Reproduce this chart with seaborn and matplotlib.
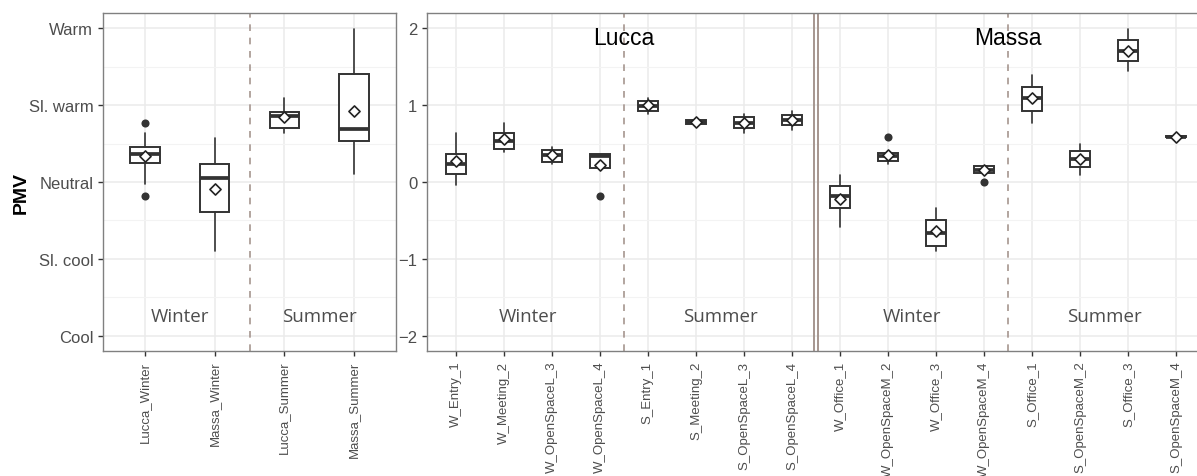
import numpy as np
import pandas as pd
import seaborn as sns
import matplotlib.pyplot as plt

# ---- left panel: site x season ----
left_groups = ["Lucca_Winter", "Massa_Winter", "Lucca_Summer", "Massa_Summer"]
left_season = ["Winter", "Winter", "Summer", "Summer"]
left_whislo = [-0.03, -0.90, 0.64, 0.10]
left_q1 = [0.25, -0.39, 0.70, 0.54]
left_med = [0.37, 0.05, 0.86, 0.69]
left_q3 = [0.46, 0.23, 0.91, 1.40]
left_whishi = [0.64, 0.57, 1.10, 1.99]
left_mean = [0.34, -0.09, 0.84, 0.92]
left_out_group = ["Lucca_Winter", "Lucca_Winter"]
left_out_val = [0.765, -0.18]

# ---- right panel: single rooms ----
right_groups = ["W_Entry_1", "W_Meeting_2", "W_OpenSpaceL_3", "W_OpenSpaceL_4",
                "S_Entry_1", "S_Meeting_2", "S_OpenSpaceL_3", "S_OpenSpaceL_4",
                "W_Office_1", "W_OpenSpaceM_2", "W_Office_3", "W_OpenSpaceM_4",
                "S_Office_1", "S_OpenSpaceM_2", "S_Office_3", "S_OpenSpaceM_4"]
right_site = ["Lucca"] * 8 + ["Massa"] * 8
right_season = (["Winter"] * 4 + ["Summer"] * 4) * 2
right_whislo = [-0.035, 0.39, 0.235, 0.17, 0.88, 0.74, 0.64, 0.68,
                -0.59, 0.235, -0.90, 0.12, 0.77, 0.095, 1.44, 0.585]
right_q1 = [0.11, 0.43, 0.265, 0.18, 0.925, 0.75, 0.70, 0.74,
            -0.34, 0.27, -0.83, 0.12, 0.92, 0.19, 1.57, 0.585]
right_med = [0.23, 0.54, 0.35, 0.34, 0.995, 0.78, 0.77, 0.81,
             -0.18, 0.335, -0.66, 0.16, 1.09, 0.30, 1.71, 0.59]
right_q3 = [0.365, 0.64, 0.42, 0.365, 1.05, 0.81, 0.84, 0.87,
            -0.05, 0.38, -0.49, 0.205, 1.24, 0.40, 1.85, 0.60]
right_whishi = [0.64, 0.765, 0.46, 0.37, 1.10, 0.82, 0.89, 0.93,
                0.095, 0.38, -0.34, 0.205, 1.39, 0.495, 1.99, 0.60]
right_mean = [0.27, 0.56, 0.35, 0.225, 1.0, 0.78, 0.77, 0.81,
              -0.22, 0.35, -0.635, 0.16, 1.09, 0.30, 1.71, 0.59]
right_out_group = ["W_OpenSpaceL_4", "W_OpenSpaceM_2", "W_OpenSpaceM_4"]
right_out_val = [-0.18, 0.58, 0.0]

pmv_ticks = [-2, -1, 0, 1, 2]
pmv_names = ["Cool", "Sl. cool", "Neutral", "Sl. warm", "Warm"]

ink = "#333333"
divider = "#a6968f"

sns.set_theme(style="whitegrid")
plt.rcParams["font.family"] = ["Liberation Sans", "DejaVu Sans"]


def blocks(labels):
    # consecutive runs of the same label -> (label, start, end)
    out, start = [], 0
    for i in range(1, len(labels) + 1):
        if i == len(labels) or labels[i] != labels[start]:
            out.append((labels[start], start, i - 1))
            start = i
    return out


def draw_panel(ax, groups, lo, q1, med, q3, hi, mean, out_g, out_v, season):
    pos = np.arange(len(groups))
    stats = [dict(whislo=a, q1=b, med=c, q3=d, whishi=e, fliers=[])
             for a, b, c, d, e in zip(lo, q1, med, q3, hi)]
    ax.bxp(stats, positions=pos, widths=0.42, showcaps=False, showfliers=False,
           patch_artist=True, manage_ticks=False,
           boxprops=dict(facecolor="white", edgecolor=ink, linewidth=1.4),
           medianprops=dict(color=ink, linewidth=2.7),
           whiskerprops=dict(color=ink, linewidth=1.2))

    outs = pd.DataFrame({"pos": [groups.index(g) for g in out_g], "val": out_v})
    sns.scatterplot(data=outs, x="pos", y="val", color=ink, s=34, linewidth=0,
                    ax=ax, zorder=5)
    means = pd.DataFrame({"pos": pos, "val": mean})
    sns.scatterplot(data=means, x="pos", y="val", marker="D", color="white",
                    edgecolor="#222222", linewidth=1.2, s=32, ax=ax, zorder=6)

    for name, a, b in blocks(season):
        ax.text((a + b) / 2, -1.74, name, ha="center", va="center", fontsize=13.5,
                family=["Open Sans", "DejaVu Sans"], color="#4d4d4d")

    ax.set_xticks(pos)
    ax.set_xticklabels(groups, rotation=90, fontsize=9.5, color="#4d4d4d")
    ax.set_xlim(-0.6, len(groups) - 0.4)
    ax.set_ylim(-2.2, 2.2)
    ax.set_yticks(pmv_ticks)
    ax.set_yticks([-1.5, -0.5, 0.5, 1.5], minor=True)
    ax.grid(which="major", color="#ebebeb", linewidth=1.1)
    ax.grid(which="minor", axis="y", color="#f3f3f3", linewidth=0.8)
    ax.set_axisbelow(True)
    ax.tick_params(which="major", length=3.5, width=1, color=ink,
                   labelsize=12, labelcolor="#4d4d4d", bottom=True, left=True)
    ax.tick_params(axis="x", labelsize=9.5)
    ax.tick_params(which="minor", length=0)
    for sp in ax.spines.values():
        sp.set_color("#808080")
        sp.set_linewidth(1)
    ax.set_xlabel("")
    ax.set_ylabel("")


fig = plt.figure(figsize=(11.97, 4.77), dpi=100)
ax1 = fig.add_axes([103 / 1197, 1 - 352 / 477, 293 / 1197, 338 / 477])
ax2 = fig.add_axes([427 / 1197, 1 - 352 / 477, 778 / 1197, 338 / 477])

draw_panel(ax1, left_groups, left_whislo, left_q1, left_med, left_q3,
           left_whishi, left_mean, left_out_group, left_out_val, left_season)
draw_panel(ax2, right_groups, right_whislo, right_q1, right_med, right_q3,
           right_whishi, right_mean, right_out_group, right_out_val, right_season)

# the right panel runs off the edge of the picture
ax2.spines["right"].set_visible(False)

ax1.set_yticklabels(pmv_names)
ax1.set_ylabel("PMV", fontsize=14, fontweight="bold", color="black")
ax1.yaxis.set_label_coords(-0.25, 0.47)

# dashed season dividers
for name, a, b in blocks(left_season)[:-1]:
    ax1.axvline(b + 0.5, color=divider, linestyle=(0, (4, 4)), linewidth=1.2)
season_runs = blocks(right_season)
for (name, a, b), nxt in zip(season_runs[:-1], season_runs[1:]):
    if right_site[b] == right_site[nxt[1]]:
        ax2.axvline(b + 0.5, color=divider, linestyle=(0, (4, 4)), linewidth=1.2)

# site labels and site divider (double line)
site_runs = blocks(right_site)
for name, a, b in site_runs:
    ax2.text((a + b) / 2, 1.88, name, ha="center", va="center", fontsize=16.5,
             color="black")
for name, a, b in site_runs[:-1]:
    ax2.axvline(b + 0.45, color=divider, linewidth=1.4)
    ax2.axvline(b + 0.55, color=divider, linewidth=1.4)

fig.savefig("out.png", dpi=100)
